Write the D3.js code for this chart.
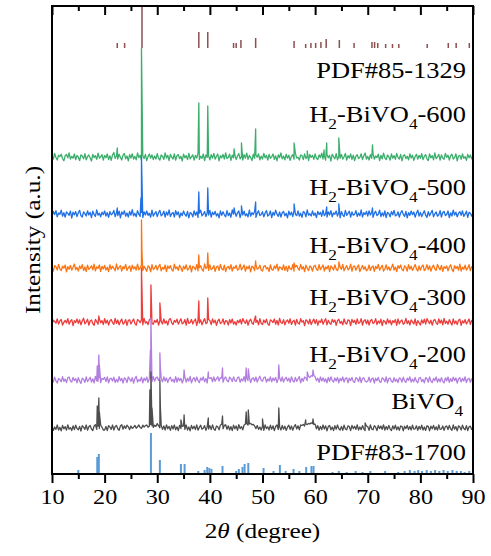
<!DOCTYPE html>
<html>
<head>
<meta charset="utf-8">
<script src="https://cdn.jsdelivr.net/npm/d3@7"></script>
<style>
  body { margin: 0; background: #fff; }
</style>
</head>
<body>
<div id="wrapper"></div>
<script>
// scan grid: 10 -> 90 deg, 0.25 deg step (321 points per background)
const scanStart = 10;
const scanStep = 0.25;

// backgrounds (counts relative to each trace baseline), one row = 10 deg
const bg600 = [
  10,-22,35,-5,-30,18,4,28,-15,-38,12,25,-8,40,-20,6,-12,30,-25,15,-2,-35,22,10,-18,33,-28,5,20,-10,-40,26,-6,14,-24,38,-12,2,24,-30,
  16,-8,30,-26,12,-34,20,45,-14,8,-22,28,-4,-30,18,36,-18,10,-38,24,-10,32,-20,6,-28,40,-6,18,-32,14,-16,26,-36,4,30,-12,22,-26,10,-20,
  34,-14,-30,20,8,-24,42,-10,16,-36,26,-2,-20,30,-30,12,24,-16,6,-40,28,-8,14,-26,36,-18,2,22,-32,16,-10,38,-24,8,-14,30,-36,20,-4,12,
  -28,24,-12,36,-22,6,30,-38,14,-8,26,-20,40,-16,-4,28,-34,18,-10,22,-26,10,34,-18,2,-30,24,-12,38,-24,16,-6,-36,28,-14,20,-2,32,-28,8,
  -20,36,-8,16,-32,26,-14,4,30,-24,12,-38,22,-6,40,-18,8,-28,28,-12,18,-34,6,24,-22,36,-10,-2,-30,20,14,-26,32,-16,10,-36,26,-4,16,-24,
  30,-12,-26,22,-6,38,-20,12,-32,24,-8,16,-40,28,4,-18,34,-28,10,-14,26,-22,2,36,-30,14,-10,30,-24,18,-36,8,22,-16,-4,32,-26,12,40,-20,
  6,-30,24,-14,34,-22,10,-6,28,-36,16,-18,38,-8,-26,20,2,-32,30,-12,14,-24,36,-4,-20,26,-38,12,22,-16,8,-28,32,-10,18,-34,4,28,-22,16,
  -12,34,-26,6,24,-18,-36,30,-8,14,-28,40,-16,2,26,-32,20,-10,-22,36,-4,18,-30,12,28,-20,-6,32,-38,10,16,-24,30,-14,4,-34,26,-8,20,-18,
  10
];
const bg500 = [
  -18,26,-6,34,-28,10,-2,38,-22,14,-32,20,6,-14,30,-40,18,-8,24,-26,12,36,-16,-30,22,4,-20,32,-10,16,-36,28,-4,-24,40,-12,8,-28,18,-6,
  30,-20,14,-34,24,-8,2,36,-26,12,-16,28,-38,20,-4,32,-22,10,-30,26,-12,44,-18,6,-28,34,-2,-24,16,-36,22,-10,30,-14,8,-32,38,-20,4,24,
  -26,12,36,-18,-6,28,-32,20,-12,40,-24,2,16,-30,34,-8,22,-36,10,-16,30,-4,-22,26,-38,14,6,-28,32,-12,20,-34,8,38,-18,-2,24,-26,14,-10,
  36,-30,18,-6,26,-20,4,-38,30,-14,22,-8,-28,34,-16,10,-32,40,-2,20,-24,12,30,-36,16,-10,28,-18,2,-30,38,-22,14,-6,24,-34,8,32,-16,-4,
  22,-28,10,34,-20,-8,30,-36,16,-12,38,-2,-24,20,-30,12,26,-18,6,-38,28,-10,18,-26,36,-4,-16,32,-22,8,-34,24,14,-28,40,-12,2,-20,30,-14,
  10,-36,26,-6,18,-24,38,-16,4,-30,22,-10,34,-28,12,-2,30,-20,16,-38,24,-8,-26,36,-14,6,28,-32,20,-12,-4,34,-24,10,-18,40,-30,14,-6,26,
  -22,32,-10,18,-34,6,28,-16,-2,38,-26,12,-20,30,-36,16,4,-28,24,-8,36,-18,-12,22,-30,10,34,-4,-24,26,-38,14,-14,30,-6,20,-32,8,38,-20,
  16,-26,4,32,-12,-34,24,-18,10,36,-28,2,20,-22,-8,34,-30,14,26,-16,-4,30,-36,12,-20,38,-10,18,-28,6,24,-14,32,-24,-2,28,-34,16,8,-22,
  14
];
const bg400 = [
  4,-32,24,12,-20,36,-8,-26,18,-2,30,-38,14,-12,26,-22,8,40,-16,6,-30,20,-6,34,-24,10,-36,28,-14,2,22,-18,38,-28,12,-4,30,-34,16,-10,
  26,-20,8,-36,32,-12,18,-2,-28,40,-16,6,24,-30,14,-8,36,-24,2,20,-34,28,-10,12,-22,38,-18,4,30,-26,16,-6,-32,22,10,-38,34,-14,-2,26,
  -20,14,36,-28,6,-12,30,-36,20,-4,24,-16,-30,38,-8,12,-24,28,2,-34,18,-10,32,-22,-6,26,-38,16,8,-18,34,-28,4,22,-14,-32,40,-6,12,-24,
  30,-16,-4,24,-34,12,20,-26,36,-8,-20,28,-36,6,16,-12,34,-30,10,-2,26,-22,-10,38,-18,4,30,-32,14,-6,22,-38,18,8,-26,32,-12,-2,28,-20,
  -30,16,24,-10,6,-36,32,-14,-22,20,-6,38,-28,12,2,-18,30,-24,16,-34,22,-8,-16,34,-30,10,26,-4,-22,36,-12,14,-36,28,-2,-26,20,8,-32,18,
  28,-12,-24,34,-16,6,30,-30,12,-8,24,-36,20,4,-20,32,-10,-26,16,10,-14,36,-28,2,24,-18,-6,38,-32,14,20,-22,8,30,-36,-4,26,-14,12,-28,
  -16,30,-24,8,20,-34,16,-6,36,-22,4,28,-30,-10,32,-18,12,-26,6,38,-20,10,-36,24,-2,30,-14,-28,22,8,-32,34,-12,18,-24,4,36,-8,-30,20,
  -22,14,30,-26,-8,34,-16,22,-32,6,28,-10,-24,36,2,-18,26,-34,14,-4,20,-28,10,32,-14,-36,24,-6,16,-22,38,-30,8,-12,28,-20,-2,34,-26,12,
  18
];
const bg300 = [
  -24,18,6,-12,32,-20,10,26,-30,-4,16,-10,34,-22,8,24,-36,14,-6,30,-14,22,-28,12,38,-18,-2,28,-32,10,20,-16,-34,26,4,-22,30,-8,14,-26,
  34,-12,18,-30,10,26,-6,-24,36,-14,20,-28,6,30,-22,-8,24,-34,16,22,-20,8,30,-16,-32,24,14,-6,20,-28,36,-12,2,-26,22,32,-14,-22,16,-4,
  26,-32,14,6,-20,30,-12,10,-30,22,34,-8,-26,16,-2,28,-22,8,32,-18,-10,24,-30,36,-14,-4,26,-20,10,30,-34,18,-10,22,-28,6,34,-16,-8,24,
  14,-26,30,-8,18,-34,10,28,-16,-6,32,-24,14,8,-30,24,-10,30,-22,2,-30,16,-8,26,-20,34,6,-14,22,-32,12,28,-10,-22,30,-4,16,-28,34,-14,
  -26,20,-8,28,-18,-34,22,12,-6,30,-22,16,-30,36,-4,-14,24,-28,8,20,-12,32,-24,6,18,-30,26,-10,-20,34,-2,14,-36,22,10,-18,28,-26,4,30,
  -16,24,-32,12,-4,30,-22,8,34,-28,16,-10,-24,26,-2,20,-34,14,28,-14,6,-28,32,-10,-20,22,14,-36,26,-6,18,-24,30,-14,-4,34,-30,10,22,-18,
  20,-30,12,26,-16,-4,34,-26,10,-12,28,-36,16,4,-22,30,-10,18,-28,14,-6,24,-34,32,-18,8,20,-24,-10,36,-16,12,-30,22,2,-20,30,-34,14,-8,
  -30,22,-12,28,-20,34,6,-16,18,-32,14,26,-8,-24,30,-12,20,-28,36,-14,8,-22,24,-4,-30,32,-16,10,-26,18,28,-34,12,-10,24,-20,4,30,-24,16,
  6
];
const bg200 = [
  12,-22,28,-8,-30,16,6,-18,34,-14,10,-26,22,30,-10,-20,26,-6,14,-28,24,-12,-34,18,8,-24,32,-16,4,28,-20,12,-30,36,-8,-14,22,-26,16,6,
  26,-16,32,-28,12,18,-10,28,-24,6,-20,34,-8,16,-30,22,10,-26,30,8,-14,24,-32,14,36,-20,4,-10,28,-28,18,-6,30,-24,12,20,-16,34,-12,22,
  30,-4,24,14,-18,32,-10,20,-26,12,28,-14,6,-24,34,-20,22,-8,16,-30,10,28,-22,18,-12,36,-28,8,24,-16,30,-6,-26,20,-2,32,-18,14,-30,26,
  14,26,-18,30,-12,12,32,-10,24,20,-22,16,30,-8,-18,28,14,-16,32,-6,-14,24,30,-22,12,-10,34,-18,20,-6,28,-26,14,22,-12,30,-20,12,38,-4,
  -12,24,30,-22,12,-10,32,-18,20,-6,26,-26,14,22,-14,30,-20,12,28,-10,18,-24,32,-8,-20,26,-14,10,34,-28,16,-12,30,20,-6,36,24,44,38,46,
  32,-6,18,-24,30,-10,22,-16,12,-28,26,-14,32,-6,-20,20,-10,26,-28,16,-8,30,-20,14,22,-28,18,-6,26,-14,-24,24,12,-16,30,-26,16,22,-10,-20,
  -10,28,-22,12,20,-30,18,-8,26,-16,-24,22,10,-18,30,-28,14,20,-12,-22,24,-14,8,-26,22,12,-20,28,-8,-24,18,-4,32,-22,10,-18,26,-12,-28,20,
  26,-16,6,-28,24,12,-22,30,-10,-26,16,-6,30,-22,12,-18,24,-14,-28,22,-8,30,-24,14,-16,28,-6,20,-30,10,24,-20,16,-10,32,-26,8,18,-22,12,
  -10
];
const bgBiVO4 = [
  18,-24,10,-14,30,-20,6,-28,26,-8,14,-22,32,-12,4,-26,22,-16,28,-6,-18,16,-30,24,8,-14,30,-22,12,26,-10,-26,20,32,-14,18,-6,26,8,-20,
  -20,16,-26,24,10,-14,30,-20,14,26,-8,-22,20,32,-12,22,-4,28,12,-16,20,-4,8,26,-2,12,30,6,-4,28,10,24,30,8,18,34,22,6,28,16,
  44,24,2,28,-14,20,-20,32,-8,16,-24,24,-10,30,-18,12,-26,26,-6,16,22,-14,30,-20,10,-28,26,-8,18,-16,32,-22,6,28,-12,-2,24,-24,14,-10,
  24,-16,32,-10,-24,20,12,-18,30,36,-8,26,32,-12,22,-20,14,-26,28,-8,20,-24,34,-6,14,-18,30,38,44,30,40,46,32,36,20,-6,24,-14,10,-20,
  18,-24,30,-6,12,-20,28,-14,22,-26,16,30,-16,12,-20,26,-12,18,-24,8,28,-14,20,-22,14,34,-10,22,-18,30,26,36,20,40,34,46,40,52,44,36,
  38,-8,24,-22,16,-16,30,-10,22,-28,14,26,-18,10,-26,24,-12,30,-8,-20,16,-24,28,-10,-18,22,12,-26,26,-6,18,-14,32,-20,10,-16,24,-8,-26,20,
  14,-24,30,-10,-18,24,8,-26,26,-6,20,-14,32,-20,14,-16,26,-8,-26,22,-10,28,-18,12,-24,20,16,-28,18,-6,26,-16,14,-20,28,-12,-8,22,-24,16,
  -12,28,-20,10,-24,22,16,-28,18,-8,26,-18,12,-22,30,-14,-10,20,-24,14,20,-16,26,-8,-22,30,-12,14,-28,22,10,-20,28,-6,-18,24,-26,12,18,-14,
  -8
];

// diffraction peaks [2theta, counts above baseline]
const peaks600 = [[22.4,90],[27.0,1090],[37.9,540],[39.6,510],[44.6,80],[46.0,140],[48.7,280],
  [56.0,140],[58.5,60],[61.7,70],[62.2,140],[64.5,190],[70.9,120]];
const peaks500 = [[22.4,60],[26.9,160],[27.0,570],[37.9,220],[39.6,260],[44.6,60],[46.0,80],[48.7,120],
  [56.0,100],[62.2,70],[64.5,100],[70.9,60]];
const peaks400 = [[27.0,480],[27.1,160],[37.9,130],[39.6,150],[48.7,70],[56.0,50],[64.5,60]];
const peaks300 = [[18.9,60],[27.0,540],[28.8,370],[30.5,190],[37.9,210],[39.6,240],[48.7,60]];
const peaks200 = [[18.6,140],[18.9,250],[19.0,150],[28.7,300],[28.8,620],[30.5,270],[30.6,120],[35.1,100],
  [39.7,80],[42.4,120],[46.9,120],[47.3,110],[53.1,150],[58.5,80],[59.6,100]];
const peaksBiVO4 = [[18.6,220],[18.9,300],[19.0,160],[28.6,380],[28.8,560],[29.0,200],[30.5,480],[30.6,200],
  [34.5,80],[35.1,130],[39.7,100],[42.4,120],[46.9,160],[47.3,180],[50.0,90],[53.1,200],[58.2,80],
  [59.6,90],[69.5,50]];

// reference sticks [2theta, counts]
const pdf85_1329 = [[22.4,50],[23.8,50],[27.1,1000],[37.9,160],[39.6,160],[44.5,50],[45.0,50],
  [45.9,80],[48.7,100],[56.0,70],[58.2,40],[59.2,50],[60.1,50],[61.1,60],[62.1,90],[64.6,80],
  [67.4,50],[70.8,60],[71.3,60],[71.9,50],[73.4,40],[74.7,40],[75.9,40],[81.3,40],[85.3,50],
  [86.8,50],[89.3,50]];
const pdf83_1700 = [[15.0,40],[18.6,170],[18.9,200],[28.8,410],[30.5,140],[34.5,100],[35.2,100],
  [37.8,30],[39.0,40],[39.5,70],[39.9,60],[40.3,50],[42.4,80],[45.0,30],[45.5,50],[46.2,70],
  [46.6,100],[47.3,110],[50.2,60],[52.1,30],[53.3,90],[54.4,30],[55.9,50],[57.0,30],[58.3,70],
  [59.3,80],[59.7,80],[63.3,20],[64.5,30],[66.0,20],[67.7,30],[69.0,20],[70.5,30],[73.3,30],
  [75.8,20],[77.0,30],[78.0,40],[78.9,30],[79.6,40],[80.3,30],[81.2,40],[82.0,30],[82.8,40],
  [83.6,30],[84.4,40],[85.2,30],[86.1,40],[86.9,30],[87.7,30],[88.4,20],[89.3,30]];

// stacking offsets (counts)
const traceNames = ["H_2-BiVO_4-600", "H_2-BiVO_4-500", "H_2-BiVO_4-400", "H_2-BiVO_4-300", "H_2-BiVO_4-200", "BiVO_4"];
const traceOffsets = [3170, 2600, 2060, 1520, 940, 460];
const traceBackgrounds = [bg600, bg500, bg400, bg300, bg200, bgBiVO4];
const tracePeaks = [peaks600, peaks500, peaks400, peaks300, peaks200, peaksBiVO4];
const pdfNames = ["PDF#85-1329", "PDF#83-1700"];
const pdfOffsets = [4260, 0];

const xTicks = [10, 20, 30, 40, 50, 60, 70, 80, 90];
const xMinorTicks = [15, 25, 35, 45, 55, 65, 75, 85];

function drawChart() {
  const dimensions = {
    width: 491,
    height: 556,
    margin: { top: 6, right: 18, bottom: 82, left: 52 },
  };
  const plotRight = dimensions.width - dimensions.margin.right;
  const plotBottom = dimensions.height - dimensions.margin.bottom;

  const traceColors = ["#3cae6c", "#1f6fe5", "#fb7413", "#ec3c3c", "#b27ee0", "#4d4d4d"];
  const pdfColors = ["#8b4f4f", "#5b9bd5"];
  const traceLabelY = [122, 195, 253, 305, 362, 409];
  const labelRight = [466, 466, 466, 466, 466, 463];
  const pdfLabelY = [78, 460];
  const stretch = "scale(1.15,1)";
  const serif = "'Liberation Serif', 'Times New Roman', serif";

  const svg = d3.select("#wrapper").append("svg")
    .attr("width", dimensions.width)
    .attr("height", dimensions.height)
    .style("font-family", serif);

  const xScale = d3.scaleLinear().domain([10, 90]).range([dimensions.margin.left, plotRight]);
  const yScale = d3.scaleLinear().domain([0, 4680]).range([plotBottom, dimensions.margin.top]);

  svg.append("clipPath").attr("id", "plot-clip")
    .append("rect")
    .attr("x", xScale(10)).attr("y", dimensions.margin.top)
    .attr("width", xScale(90) - xScale(10))
    .attr("height", plotBottom - dimensions.margin.top);

  const plot = svg.append("g").attr("clip-path", "url(#plot-clip)");

  // top reference sticks
  plot.append("g").selectAll("line").data(pdf85_1329).join("line")
    .attr("x1", d => xScale(d[0])).attr("x2", d => xScale(d[0]))
    .attr("y1", yScale(pdfOffsets[0]))
    .attr("y2", d => yScale(pdfOffsets[0] + d[1]))
    .attr("stroke", pdfColors[0]).attr("stroke-width", 1.5);

  // measured patterns, top to bottom so lower ones overlap
  const line = d3.line().x(d => xScale(d[0])).y(d => yScale(d[1]));
  traceBackgrounds.forEach((bg, k) => {
    const pts = bg.map((v, i) => [scanStart + i * scanStep, v]);
    tracePeaks[k].forEach(p => pts.push(p));
    pts.sort((a, b) => a[0] - b[0]);
    plot.append("path")
      .datum(pts.map(d => [d[0], traceOffsets[k] + d[1]]))
      .attr("d", line)
      .attr("fill", "none")
      .attr("stroke", traceColors[k])
      .attr("stroke-width", 1.3)
      .attr("stroke-linejoin", "round");
  });

  // bottom reference sticks
  plot.append("g").selectAll("line").data(pdf83_1700).join("line")
    .attr("x1", d => xScale(d[0])).attr("x2", d => xScale(d[0]))
    .attr("y1", yScale(pdfOffsets[1]))
    .attr("y2", d => yScale(pdfOffsets[1] + d[1]))
    .attr("stroke", pdfColors[1]).attr("stroke-width", 2);

  // labels, subscripts written as _n
  const addLabel = (name, xPos, yPos) => {
    const t = svg.append("text")
      .attr("transform", `translate(${xPos},${yPos}) ${stretch}`)
      .attr("text-anchor", "end")
      .style("font-size", "23px")
      .attr("fill", "#000");
    let shifted = false;
    name.split(/(_\d)/).filter(s => s).forEach(part => {
      if (part[0] === "_") {
        t.append("tspan").attr("dy", 7).style("font-size", "15px").text(part.slice(1));
        shifted = true;
      } else {
        t.append("tspan").attr("dy", shifted ? -7 : null).text(part);
        shifted = false;
      }
    });
  };
  pdfNames.forEach((n, i) => addLabel(n, 466, pdfLabelY[i]));
  traceNames.forEach((n, i) => addLabel(n, labelRight[i], traceLabelY[i]));

  // frame
  svg.append("rect")
    .attr("x", xScale(10)).attr("y", dimensions.margin.top)
    .attr("width", xScale(90) - xScale(10))
    .attr("height", plotBottom - dimensions.margin.top)
    .attr("fill", "none").attr("stroke", "#000").attr("stroke-width", 2);

  // axes
  const bottomAxis = svg.append("g")
    .attr("transform", `translate(0,${plotBottom})`)
    .call(d3.axisBottom(xScale).tickValues(xTicks).tickSize(9).tickPadding(6).tickFormat(d3.format("d")));
  bottomAxis.select(".domain").remove();
  bottomAxis.selectAll(".tick line").attr("stroke-width", 2);
  bottomAxis.selectAll(".tick text")
    .attr("transform", stretch)
    .style("font-size", "21px")
    .style("font-family", serif)
    .attr("fill", "#000");

  const tickOnly = (g) => {
    g.select(".domain").remove();
    g.selectAll(".tick text").remove();
    g.selectAll(".tick line").attr("stroke-width", 2);
  };
  svg.append("g")
    .attr("transform", `translate(0,${plotBottom})`)
    .call(d3.axisBottom(xScale).tickValues(xMinorTicks).tickSize(5))
    .call(tickOnly);
  svg.append("g")
    .attr("transform", `translate(0,${dimensions.margin.top})`)
    .call(d3.axisBottom(xScale).tickValues(xTicks).tickSize(9))
    .call(tickOnly);
  svg.append("g")
    .attr("transform", `translate(0,${dimensions.margin.top})`)
    .call(d3.axisBottom(xScale).tickValues(xMinorTicks).tickSize(5))
    .call(tickOnly);

  // axis titles
  const xTitle = svg.append("text")
    .attr("transform", `translate(${(xScale(10) + xScale(90)) / 2},538) ${stretch}`)
    .attr("text-anchor", "middle")
    .style("font-size", "22px")
    .attr("fill", "#000");
  xTitle.append("tspan").text("2");
  xTitle.append("tspan").style("font-style", "italic").text("\u03b8");
  xTitle.append("tspan").text(" (degree)");

  svg.append("text")
    .attr("transform", `translate(40,${(dimensions.margin.top + plotBottom) / 2}) rotate(-90) ${stretch}`)
    .attr("text-anchor", "middle")
    .style("font-size", "22px")
    .attr("fill", "#000")
    .text("Intensity (a.u.)");
}
drawChart();
</script>
</body>
</html>
